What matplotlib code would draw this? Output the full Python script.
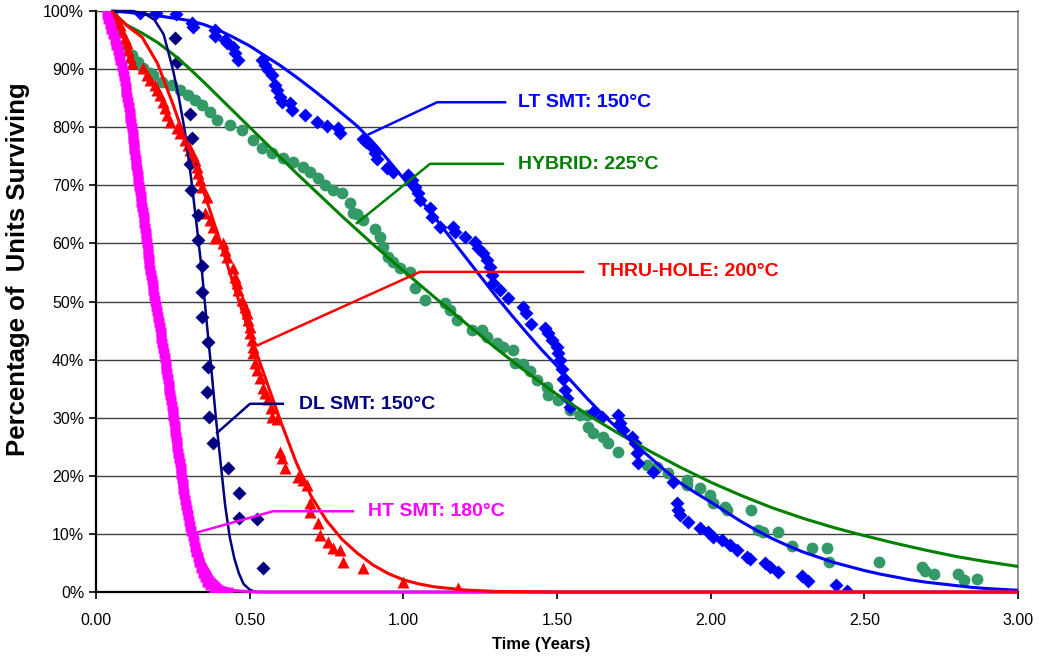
import matplotlib
matplotlib.use('Agg')
import matplotlib.pyplot as plt

# observed units: (time in years, percent surviving)
lt_smt_pts = [
    (0.143, 99.7), (0.195, 99.7), (0.26, 99.5), (0.312, 98.0), (0.316, 97.3), (0.387, 96.7),
    (0.387, 95.7), (0.42, 95.0), (0.426, 94.5), (0.446, 93.8), (0.452, 92.7), (0.462, 91.6),
    (0.54, 91.6), (0.55, 90.7), (0.56, 89.8), (0.572, 89.0), (0.582, 87.3), (0.589, 86.4),
    (0.599, 85.2), (0.605, 84.3), (0.631, 84.2), (0.638, 83.0), (0.68, 82.1), (0.719, 80.9),
    (0.752, 80.2), (0.788, 79.9), (0.794, 79.0), (0.869, 78.0), (0.88, 77.4), (0.902, 76.4),
    (0.908, 75.5), (0.914, 74.5), (0.947, 73.0), (0.967, 72.3), (1.016, 71.8), (1.028, 70.9),
    (1.038, 69.7), (1.048, 68.7), (1.054, 67.5), (1.087, 66.1), (1.093, 64.5), (1.119, 62.8),
    (1.162, 62.8), (1.168, 62.0), (1.2, 61.1), (1.233, 60.2), (1.243, 59.2), (1.259, 58.3),
    (1.272, 57.1), (1.282, 55.9), (1.289, 54.6), (1.292, 53.2), (1.315, 52.0), (1.341, 50.6),
    (1.39, 49.1), (1.398, 48.0), (1.415, 46.2), (1.461, 45.4), (1.471, 44.6), (1.484, 43.4),
    (1.5, 42.2), (1.503, 41.1), (1.51, 39.9), (1.516, 38.4), (1.52, 36.7), (1.526, 34.8),
    (1.533, 33.4), (1.542, 31.8), (1.617, 31.0), (1.646, 30.1), (1.699, 30.5), (1.705, 29.1),
    (1.715, 27.9), (1.744, 26.7), (1.754, 25.6), (1.76, 23.9), (1.764, 22.2), (1.813, 20.7),
    (1.878, 18.9), (1.89, 15.3), (1.894, 14.1), (1.9, 13.3), (1.926, 12.1), (1.965, 11.0),
    (1.991, 10.3), (2.008, 9.5), (2.037, 8.9), (2.063, 8.1), (2.086, 7.2), (2.118, 6.0),
    (2.128, 5.6), (2.177, 5.0), (2.193, 4.3), (2.22, 3.4), (2.297, 2.8), (2.317, 1.9),
    (2.408, 1.2), (2.443, 0.2),
]

hybrid_pts = [
    (0.052, 99.5), (0.062, 98.2), (0.072, 96.4), (0.094, 94.1), (0.117, 92.4), (0.12, 91.6),
    (0.137, 91.2), (0.153, 90.2), (0.176, 89.3), (0.185, 89.0), (0.215, 87.8), (0.247, 87.3),
    (0.273, 86.4), (0.299, 85.5), (0.322, 84.7), (0.345, 83.8), (0.371, 82.6), (0.394, 81.2),
    (0.436, 80.4), (0.475, 79.5), (0.511, 77.8), (0.54, 76.4), (0.573, 75.6), (0.609, 74.7),
    (0.641, 74.0), (0.674, 73.2), (0.696, 72.3), (0.722, 71.3), (0.745, 70.0), (0.771, 69.2),
    (0.8, 68.7), (0.827, 67.0), (0.836, 65.2), (0.849, 65.0), (0.869, 64.0), (0.908, 62.5),
    (0.924, 61.1), (0.934, 59.4), (0.95, 57.7), (0.967, 56.8), (0.989, 55.8), (1.022, 55.1),
    (1.038, 52.3), (1.071, 50.3), (1.136, 49.7), (1.152, 48.5), (1.175, 46.8), (1.224, 45.1),
    (1.256, 45.1), (1.272, 43.9), (1.305, 42.9), (1.324, 42.1), (1.357, 41.7), (1.364, 39.4),
    (1.39, 39.3), (1.412, 38.0), (1.435, 36.5), (1.468, 35.3), (1.471, 33.9), (1.503, 33.0),
    (1.542, 31.3), (1.575, 30.5), (1.598, 30.5), (1.601, 28.4), (1.617, 27.4), (1.65, 26.7),
    (1.666, 25.6), (1.699, 24.1), (1.793, 21.9), (1.826, 21.5), (1.861, 20.5), (1.923, 19.3),
    (1.923, 18.4), (1.965, 17.9), (1.998, 16.7), (2.008, 15.3), (2.047, 14.6), (2.053, 14.1),
    (2.13, 14.1), (2.154, 10.7), (2.17, 10.3), (2.218, 10.3), (2.265, 8.0), (2.33, 7.6),
    (2.378, 7.6), (2.386, 5.2), (2.548, 5.2), (2.688, 4.3), (2.698, 3.6), (2.727, 3.1),
    (2.805, 3.1), (2.825, 2.1), (2.867, 2.2),
]

thru_hole_pts = [
    (0.046, 99.6), (0.062, 98.5), (0.078, 97.6), (0.085, 96.4), (0.094, 95.3), (0.101, 94.5),
    (0.104, 93.3), (0.111, 92.1), (0.117, 91.0), (0.153, 90.2), (0.166, 89.0), (0.176, 88.1),
    (0.192, 87.3), (0.199, 86.4), (0.208, 85.5), (0.218, 84.3), (0.225, 83.3), (0.231, 82.1),
    (0.24, 80.9), (0.264, 79.9), (0.273, 79.0), (0.29, 77.8), (0.299, 76.9), (0.306, 76.1),
    (0.316, 75.2), (0.322, 74.4), (0.329, 73.2), (0.332, 72.1), (0.338, 70.9), (0.345, 69.7),
    (0.361, 68.0), (0.355, 65.2), (0.371, 64.0), (0.381, 62.8), (0.387, 60.9), (0.413, 60.1),
    (0.42, 58.9), (0.426, 57.7), (0.446, 55.8), (0.452, 54.2), (0.459, 53.2), (0.462, 52.0),
    (0.475, 50.3), (0.485, 49.1), (0.491, 48.0), (0.495, 46.8), (0.501, 45.6), (0.501, 44.6),
    (0.508, 43.4), (0.511, 42.2), (0.511, 41.1), (0.516, 39.4), (0.524, 38.2), (0.534, 36.8),
    (0.542, 35.2), (0.55, 34.2), (0.56, 33.2), (0.568, 31.6), (0.573, 30.2), (0.59, 29.7),
    (0.599, 24.1), (0.605, 23.0), (0.615, 21.3), (0.657, 19.8), (0.674, 19.3), (0.687, 18.4),
    (0.696, 15.3), (0.696, 13.8), (0.722, 11.9), (0.729, 9.8), (0.755, 8.6), (0.771, 7.6),
    (0.794, 7.2), (0.804, 5.2), (0.869, 4.1), (1.0, 1.8), (1.178, 0.7),
]

dl_smt_pts = [
    (0.257, 95.4), (0.262, 91.2), (0.306, 82.2), (0.312, 78.1), (0.306, 73.6), (0.31, 69.2),
    (0.332, 64.9), (0.332, 60.6), (0.345, 56.1), (0.344, 51.6), (0.344, 47.3), (0.365, 43.0),
    (0.365, 38.7), (0.361, 34.4), (0.368, 30.1), (0.381, 25.7), (0.43, 21.3), (0.465, 17.0),
    (0.465, 12.7), (0.523, 12.6), (0.543, 4.1),
]

ht_smt_pts = [
    (0.035, 99.5), (0.040, 98.6), (0.046, 97.8), (0.050, 96.9), (0.056, 96.0), (0.062, 95.1),
    (0.066, 94.2), (0.070, 93.3), (0.075, 92.4), (0.079, 91.5), (0.083, 90.6), (0.087, 89.7),
    (0.090, 88.8), (0.093, 87.9), (0.096, 87.0), (0.099, 86.1), (0.101, 85.2), (0.104, 84.3),
    (0.106, 83.4), (0.109, 82.5), (0.112, 81.6), (0.114, 80.7), (0.116, 79.8), (0.119, 78.9),
    (0.121, 78.0), (0.123, 77.1), (0.125, 76.2), (0.127, 75.3), (0.129, 74.4), (0.131, 73.5),
    (0.134, 72.6), (0.136, 71.7), (0.138, 70.8), (0.141, 69.9), (0.143, 69.0), (0.146, 68.1),
    (0.148, 67.2), (0.150, 66.3), (0.153, 65.4), (0.155, 64.5), (0.157, 63.6), (0.159, 62.7),
    (0.162, 61.8), (0.164, 60.9), (0.166, 60.0), (0.168, 59.1), (0.170, 58.2), (0.172, 57.3),
    (0.174, 56.4), (0.177, 55.5), (0.179, 54.6), (0.182, 53.7), (0.184, 52.8), (0.187, 51.9),
    (0.190, 51.0), (0.193, 50.1), (0.196, 49.2), (0.198, 48.3), (0.201, 47.4), (0.204, 46.5),
    (0.207, 45.6), (0.210, 44.7), (0.213, 43.8), (0.215, 42.9), (0.218, 42.0), (0.221, 41.1),
    (0.224, 40.2), (0.227, 39.3), (0.229, 38.4), (0.231, 37.5), (0.234, 36.6), (0.236, 35.7),
    (0.239, 34.8), (0.241, 33.9), (0.244, 33.0), (0.246, 32.1), (0.249, 31.2), (0.251, 30.3),
    (0.254, 29.4), (0.256, 28.5), (0.258, 27.6), (0.261, 26.7), (0.263, 25.8), (0.265, 24.9),
    (0.268, 24.0), (0.270, 23.1), (0.272, 22.2), (0.275, 21.3), (0.277, 20.4), (0.279, 19.5),
    (0.282, 18.6), (0.284, 17.7), (0.287, 16.8), (0.290, 15.9), (0.293, 15.0), (0.296, 14.1),
    (0.299, 13.2), (0.302, 12.3), (0.306, 11.4), (0.310, 10.5), (0.314, 9.6), (0.318, 8.7),
    (0.322, 7.8), (0.326, 6.9), (0.331, 6.0), (0.336, 5.1), (0.341, 4.2), (0.347, 3.3),
    (0.354, 2.5), (0.362, 1.8), (0.372, 1.2), (0.383, 0.7), (0.395, 0.3), (0.41, 0.0),
    (0.43, 0.0),
]

# fitted survival curves
lt_smt_fit = [
    (0.05, 100), (0.1, 99.8), (0.15, 99.5), (0.2, 99.2), (0.25, 98.8), (0.3, 98.4),
    (0.35, 97.7), (0.4, 96.7), (0.45, 95.4), (0.5, 94.0), (0.55, 92.3), (0.6, 90.6),
    (0.65, 88.7), (0.7, 86.7), (0.75, 84.6), (0.8, 82.4), (0.85, 80.2), (0.9, 77.5),
    (0.95, 74.4), (1.0, 71.2), (1.05, 67.9), (1.1, 64.6), (1.15, 61.2), (1.2, 57.8),
    (1.25, 54.4), (1.3, 51.0), (1.35, 47.8), (1.4, 44.7), (1.45, 41.7), (1.5, 38.9),
    (1.55, 36.1), (1.6, 33.2), (1.65, 30.5), (1.7, 28.0), (1.75, 25.6), (1.8, 23.3),
    (1.85, 21.0), (1.9, 18.8), (1.95, 17.1), (2.0, 15.5), (2.05, 13.8), (2.1, 12.1),
    (2.15, 10.6), (2.2, 9.2), (2.25, 8.0), (2.3, 6.9), (2.35, 6.0), (2.4, 5.1),
    (2.45, 4.4), (2.5, 3.7), (2.55, 3.1), (2.6, 2.6), (2.65, 2.1), (2.7, 1.7),
    (2.75, 1.4), (2.8, 1.1), (2.85, 0.8), (2.9, 0.6), (2.95, 0.45), (3.0, 0.3),
]
hybrid_fit = [
    (0.05, 100), (0.1, 97.6), (0.15, 96.2), (0.2, 94.6), (0.25, 92.6), (0.3, 90.3),
    (0.35, 87.8), (0.4, 85.2), (0.45, 82.6), (0.5, 80.0), (0.55, 77.4), (0.6, 74.8),
    (0.65, 72.2), (0.7, 69.7), (0.75, 67.2), (0.8, 64.7), (0.85, 62.3), (0.9, 59.9),
    (0.95, 57.6), (1.0, 55.3), (1.1, 50.8), (1.2, 46.4), (1.3, 42.0), (1.4, 37.9),
    (1.5, 34.0), (1.6, 30.5), (1.7, 27.3), (1.8, 24.3), (1.9, 21.5), (2.0, 18.9),
    (2.1, 16.6), (2.2, 14.5), (2.3, 12.7), (2.4, 11.1), (2.5, 9.7), (2.6, 8.4),
    (2.7, 7.2), (2.8, 6.1), (2.9, 5.2), (3.0, 4.4),
]
thru_hole_fit = [
    (0.05, 100), (0.1, 97.5), (0.15, 95.5), (0.2, 91), (0.25, 84), (0.3, 76.5), (0.35, 69),
    (0.4, 61), (0.45, 52.5), (0.5, 44.5), (0.55, 37), (0.6, 29.5), (0.65, 22.5), (0.7, 16.5),
    (0.75, 12.3), (0.8, 9.1), (0.85, 6.7), (0.9, 4.7), (0.95, 3.2), (1.0, 2.1), (1.05, 1.4),
    (1.1, 0.9), (1.2, 0.35), (1.3, 0.1), (1.5, 0), (3.0, 0),
]
dl_smt_fit = [
    (0.05, 100), (0.12, 100), (0.16, 99.5), (0.19, 98.5), (0.22, 96), (0.25, 90), (0.27, 85),
    (0.29, 79), (0.31, 71), (0.33, 62), (0.345, 55), (0.36, 46.5), (0.375, 38.5), (0.39, 30),
    (0.405, 22.5), (0.42, 15), (0.435, 9.5), (0.45, 5.8), (0.465, 3.2), (0.48, 1.4),
    (0.5, 0.4), (0.52, 0), (3.0, 0),
]
ht_smt_fit = [
    (0.04, 99), (0.07, 95), (0.09, 90), (0.115, 81), (0.142, 70), (0.163, 62), (0.18, 54),
    (0.205, 46), (0.23, 38.5), (0.25, 32), (0.27, 24.5), (0.29, 17), (0.31, 12), (0.33, 8.5),
    (0.35, 5.2), (0.38, 2.4), (0.41, 0.9), (0.44, 0.3), (0.5, 0.05), (0.55, 0), (3.0, 0),
]

# label text, colour, leader line vertices, text anchor
callouts = [
    ('LT SMT: 150°C', '#0000FF', [(0.888, 78.8), (1.110, 84.3), (1.331, 84.3)], (1.373, 84.2)),
    ('HYBRID: 225°C', '#008000', [(0.849, 63.5), (1.087, 73.7), (1.324, 73.7)], (1.373, 73.6)),
    ('THRU-HOLE: 200°C', '#FF0000', [(0.527, 42.5), (1.054, 55.1), (1.585, 55.1)], (1.633, 55.1)),
    ('DL SMT: 150°C', '#000080', [(0.394, 27.4), (0.501, 32.4), (0.608, 32.4)], (0.661, 32.2)),
    ('HT SMT: 180°C', '#FF00FF', [(0.332, 10.3), (0.576, 13.9), (0.836, 13.9)], (0.885, 13.8)),
]

tick_font = ['Liberation Sans Narrow', 'Liberation Sans', 'DejaVu Sans']
label_font = ['Liberation Sans', 'DejaVu Sans']


def xy(pts):
    return [p[0] for p in pts], [p[1] for p in pts]


fig = plt.figure(figsize=(10.39, 6.57), dpi=100)
ax = fig.add_axes([0.0924, 0.0989, 0.8874, 0.8843])

ax.set_xlim(0, 3.0)
ax.set_ylim(0, 100)
ax.set_yticks(range(0, 101, 10))
ax.set_yticklabels([f'{v}%' for v in range(0, 101, 10)])
ax.set_xticks([0, 0.5, 1.0, 1.5, 2.0, 2.5, 3.0])
ax.set_xticklabels(['0.00', '0.50', '1.00', '1.50', '2.00', '2.50', '3.00'])
ax.grid(axis='y', color='#404040', linewidth=1.0)
ax.set_axisbelow(True)
for lab in ax.get_xticklabels() + ax.get_yticklabels():
    lab.set_family(tick_font)
    lab.set_fontsize(11.5)
ax.tick_params(direction='out', length=5, width=1.2, colors='black')
ax.tick_params(axis='x', pad=10)

for side in ('left', 'bottom'):
    ax.spines[side].set_linewidth(1.6)
    ax.spines[side].set_color('black')
ax.spines['top'].set_color('#404040')
ax.spines['right'].set_color('#808080')
ax.spines['right'].set_linewidth(1.2)

# observed failures
x, y = xy(hybrid_pts)
ax.plot(x, y, 'o', color='#339966', ms=8.5, mec='none', zorder=3)
x, y = xy(lt_smt_pts)
ax.plot(x, y, 'D', color='#0000FF', ms=7.5, mec='none', zorder=3)
x, y = xy(thru_hole_pts)
ax.plot(x, y, '^', color='#FF0000', ms=9, mec='none', zorder=3)
x, y = xy(dl_smt_pts)
ax.plot(x, y, 'D', color='#000080', ms=7.5, mec='none', zorder=3)
x, y = xy(ht_smt_pts)
ax.plot(x, y, 's', color='#FF00FF', ms=7.5, mec='none', zorder=3)

# fitted curves
for pts, col, lw in [(hybrid_fit, '#008000', 2.2), (lt_smt_fit, '#0000FF', 2.2),
                     (dl_smt_fit, '#000080', 1.8), (ht_smt_fit, '#FF00FF', 2.2),
                     (thru_hole_fit, '#FF0000', 2.2)]:
    x, y = xy(pts)
    ax.plot(x, y, '-', color=col, lw=lw, zorder=4, clip_on=False, solid_capstyle='butt')

# callout labels with leader lines
for text, col, verts, anchor in callouts:
    x, y = xy(verts)
    ax.plot(x, y, '-', color=col, lw=1.8, zorder=5)
    ax.text(anchor[0], anchor[1], text, color=col, fontsize=14, fontweight='bold',
            family=label_font, ha='left', va='center', zorder=5)

ax.set_xlabel('Time (Years)', fontsize=12, fontweight='bold', family=tick_font)
ax.xaxis.set_label_coords(0.483, -0.078)
ax.set_ylabel('Percentage of  Units Surviving', fontsize=18.5, fontweight='bold',
              family=label_font)
ax.yaxis.set_label_coords(-0.072, 0.556)

fig.savefig('out.png', dpi=100)
